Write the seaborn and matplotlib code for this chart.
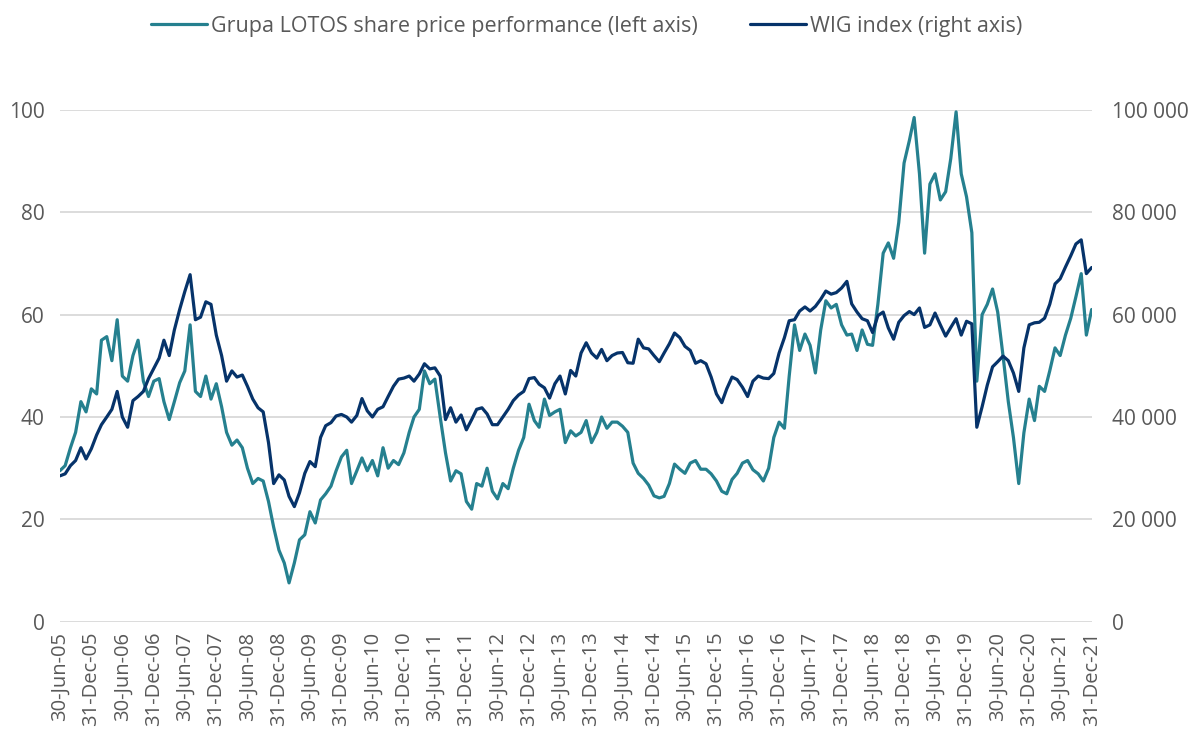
import seaborn as sns
import matplotlib.pyplot as plt
import matplotlib.ticker as mticker
import pandas as pd

# month-end dates, Jun 2005 - Dec 2021
months = pd.date_range('2005-06-30', '2021-12-31', freq='ME')

# Grupa LOTOS share price (left axis), one value per month
lotos = [
    29.5, 30.5, 34, 37, 43, 41, 45.5, 44.5, 55, 55.7, 51, 59,
    48, 47, 52, 55, 47, 44, 47, 47.5, 43, 39.5, 43, 46.7,
    49, 58, 45, 44, 48, 43.5, 46.5, 42, 37, 34.5, 35.5, 34,
    30, 27, 28, 27.5, 23.5, 18.5, 14, 11.5, 7.6, 11.5, 16, 17,
    21.5, 19.3, 23.8, 25, 26.5, 29.5, 32.2, 33.5, 27, 29.5, 32, 29.5,
    31.5, 28.5, 34, 30, 31.5, 30.7, 33, 37, 40, 41.5, 49, 46.5,
    47.4, 40, 33, 27.5, 29.5, 28.9, 23.5, 22, 27, 26.5, 30, 25.5,
    24, 27, 26, 30, 33.5, 36, 42.5, 39.3, 38, 43.5, 40.3, 41,
    41.5, 35, 37.3, 36.3, 37, 39.3, 35, 37, 40, 37.8, 39, 39,
    38.2, 37, 31, 29, 28, 26.7, 24.6, 24.2, 24.5, 27, 30.8, 29.8,
    29, 31, 31.5, 29.8, 29.8, 28.9, 27.5, 25.5, 25, 27.8, 29, 31,
    31.5, 29.7, 28.9, 27.5, 30, 36, 39, 37.8, 48, 58, 53, 56.2,
    54, 48.6, 57, 62.7, 61.3, 62, 58, 56, 56.2, 53, 57, 54.2,
    54, 62, 72, 74, 71, 78, 89.6, 94, 98.5, 87.5, 72, 85.5,
    87.5, 82.4, 84, 90.5, 99.6, 87.5, 83, 76, 47, 60, 62, 65,
    60.5, 52, 43, 36, 27, 36.9, 43.5, 39.3, 46, 45, 49, 53.5,
    52, 56, 59.3, 63.5, 68, 56, 61,
]

# WIG index (right axis), thousands of points
wig_k = [
    28.5, 28.9, 30.5, 31.5, 34, 31.8, 33.8, 36.5, 38.5, 40, 41.5, 45,
    40, 38, 43.2, 44, 45, 47.5, 49.5, 51.5, 55, 52, 57, 61,
    64.5, 67.8, 59, 59.5, 62.5, 62, 56, 52, 47, 49, 47.8, 48.2,
    46, 43.5, 41.8, 41, 35, 27, 28.7, 27.7, 24.5, 22.5, 25.2, 29,
    31.3, 30.3, 36, 38.3, 38.9, 40.2, 40.5, 40, 39, 40.3, 43.6, 41.2,
    40, 41.5, 42, 44, 46, 47.4, 47.6, 48, 47, 48.4, 50.4, 49.4,
    49.6, 48, 39.5, 41.8, 39, 40.4, 37.5, 39.5, 41.5, 41.8, 40.6, 38.5,
    38.5, 40, 41.5, 43.2, 44.3, 45, 47.5, 47.7, 46.4, 45.7, 43.7, 46.5,
    48, 44.5, 49.1, 48, 52.5, 54.5, 52.5, 51.5, 53.2, 51, 52, 52.5,
    52.6, 50.6, 50.5, 55.2, 53.5, 53.3, 52, 50.8, 52.5, 54.3, 56.4, 55.5,
    53.8, 53, 50.5, 51, 50.4, 47.8, 44.5, 42.8, 45.5, 47.8, 47.3, 45.8,
    44, 47, 48, 47.6, 47.5, 48.5, 52.5, 55.5, 58.8, 59, 60.7, 61.5,
    60.7, 61.6, 63, 64.6, 64, 64.3, 65.2, 66.5, 62.1, 60.5, 59.2, 58.8,
    56.5, 59.8, 60.5, 57.4, 55.2, 58.5, 59.8, 60.6, 60, 61.3, 57.5, 58,
    60.3, 58, 55.8, 57.5, 59.2, 56, 58.7, 58.2, 38, 42, 46.2, 49.8,
    50.8, 51.9, 51, 48.6, 45, 53.5, 58, 58.4, 58.5, 59.3, 62, 66,
    67, 69.3, 71.5, 73.8, 74.6, 68, 69.2,
]
wig = [v * 1000 for v in wig_k]

df = pd.DataFrame({'date': months, 'lotos': lotos, 'wig': wig})

teal = '#25808F'
navy = '#06336A'
grey = '#595959'

sns.set_theme(style='white')
plt.rcParams['font.family'] = ['Open Sans', 'DejaVu Sans']

fig = plt.figure(figsize=(11.97, 7.42), dpi=100)
ax = fig.add_axes([0.050, 0.162, 0.862, 0.690])
ax2 = ax.twinx()

sns.lineplot(data=df, x='date', y='lotos', ax=ax, color=teal, linewidth=2.3,
             label='Grupa LOTOS share price performance (left axis)', legend=False)
sns.lineplot(data=df, x='date', y='wig', ax=ax2, color=navy, linewidth=2.3,
             label='WIG index (right axis)', legend=False)
ax2.set_zorder(ax.get_zorder() + 1)
ax2.patch.set_visible(False)

ax.set_ylim(0, 100)
ax2.set_ylim(0, 100000)
ax.set_yticks(range(0, 101, 20))
ax2.set_yticks(range(0, 100001, 20000))
ax2.yaxis.set_major_formatter(mticker.FuncFormatter(
    lambda v, p: f'{int(v):,}'.replace(',', ' ')))

ticks = pd.date_range('2005-06-30', '2021-12-31', freq='6ME')
ax.set_xlim(months[0], months[-1])
ax.set_xticks(ticks)
ax.set_xticklabels([t.strftime('%d-%b-%y') for t in ticks], rotation=90)

ax.grid(axis='y', color='#D9D9D9', linewidth=1.3)
ax.grid(axis='x', visible=False)
ax2.grid(False)
for a in (ax, ax2):
    for s in a.spines.values():
        s.set_visible(False)
    a.set_xlabel('')
    a.set_ylabel('')
ax.tick_params(axis='y', length=0, pad=11, labelsize=15, labelcolor=grey)
ax2.tick_params(axis='y', length=0, pad=15, labelsize=15, labelcolor=grey)
ax.tick_params(axis='x', length=0, pad=7, labelsize=14.5, labelcolor=grey)

h1, l1 = ax.get_legend_handles_labels()
h2, l2 = ax2.get_legend_handles_labels()
fig.legend(h1 + h2, l1 + l2, loc='upper center', bbox_to_anchor=(0.49, 1.005),
           ncol=2, frameon=False, fontsize=15.5, labelcolor=grey,
           handlelength=2.6, handletextpad=0.2, columnspacing=2.4)

fig.savefig('out.png', dpi=100)
